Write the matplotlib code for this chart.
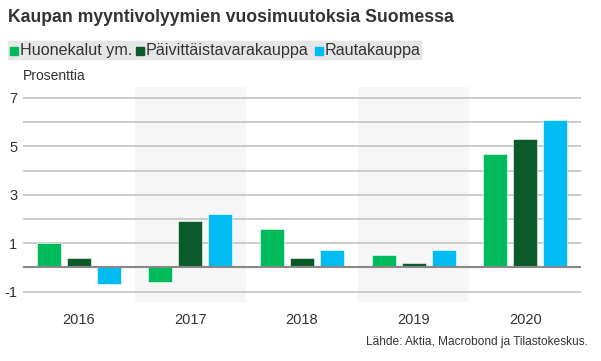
import matplotlib
matplotlib.use("Agg")
import matplotlib.pyplot as plt
import numpy as np
from matplotlib.patches import Rectangle

plt.rcParams["font.family"] = ["Liberation Sans", "DejaVu Sans"]

years = ["2016", "2017", "2018", "2019", "2020"]
huonekalut = [1.0, -0.6, 1.6, 0.5, 4.7]
paivittaistavara = [0.4, 1.9, 0.4, 0.2, 5.3]
rautakauppa = [-0.7, 2.2, 0.7, 0.7, 6.1]
series_names = ["Huonekalut ym.", "Päivittäistavarakauppa", "Rautakauppa"]
colors = ["#00BB5B", "#0B5A2A", "#00BCF2"]
yticks = [-1, 1, 3, 5, 7]

W, H = 601, 361
fig = plt.figure(figsize=(W / 100, H / 100), dpi=100)
ax = fig.add_axes([23 / W, (H - 302) / H, 558 / W, 215 / H])

x = np.arange(len(years))
bw = 0.215
step = 0.268
for i, vals in enumerate([huonekalut, paivittaistavara, rautakauppa]):
    ax.bar(x + (i - 1) * step, vals, bw, color=colors[i], zorder=3,
           edgecolor="white", linewidth=0.4)

# harmaat taustat joka toiselle vuodelle
for k in (1, 3):
    ax.axvspan(k - 0.5, k + 0.5, color="#F6F6F6", zorder=0, lw=0)

for g in range(-1, 8):
    ax.axhline(g, color="#C8C8C8", lw=1.3, zorder=1)
ax.axhline(0, color="#888888", lw=1.5, zorder=4)

ax.set_xlim(-0.5, 4.5)
ax.set_ylim(-1.43, 7.45)
ax.set_yticks(yticks)
ax.set_yticklabels([str(t) for t in yticks])
ax.set_xticks(x)
ax.set_xticklabels(years)
ax.tick_params(length=0, labelsize=10.5, colors="#333333")
ax.tick_params(axis="y", pad=4)
ax.tick_params(axis="x", pad=8)
for s in ax.spines.values():
    s.set_visible(False)

fig.text(8 / W, 1 - 18 / H, "Kaupan myyntivolyymien vuosimuutoksia Suomessa",
         fontsize=12.7, fontweight="bold", color="#333333", va="center")

# selite
fig.patches.append(Rectangle((8 / W, 1 - 59 / H), 413 / W, 18 / H,
                             transform=fig.transFigure, color="#E6E6E6", zorder=0))
for name, c, nx in zip(series_names, colors, [10, 136, 315]):
    fig.patches.append(Rectangle((nx / W, 1 - 55 / H), 8 / W, 8 / H,
                                 transform=fig.transFigure, color=c, zorder=1))
    fig.text((nx + 10) / W, 1 - 50 / H, name, fontsize=11.6, color="#333333", va="center")

fig.text(23 / W, 1 - 76 / H, "Prosenttia", fontsize=10, color="#333333", va="center")
fig.text(588 / W, 1 - 342 / H, "Lähde: Aktia, Macrobond ja Tilastokeskus.",
         fontsize=8.6, color="#333333", ha="right", va="center")

fig.savefig("out.png", dpi=100)
